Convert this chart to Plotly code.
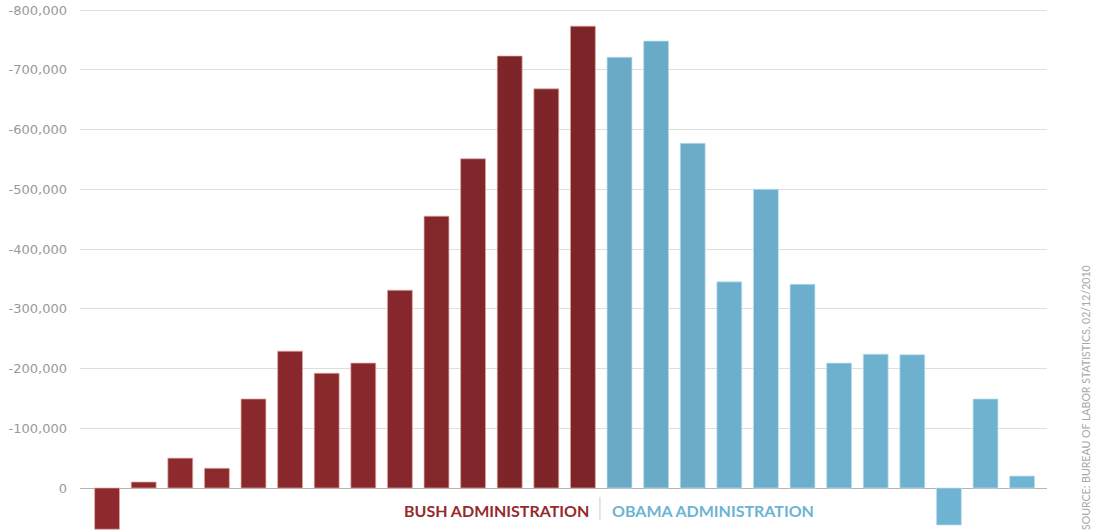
import plotly.graph_objects as go

# Monthly change in jobs (negative = jobs lost)
bush_values = [69000, -10000, -50000, -33000, -149000, -229000, -192000,
               -209000, -331000, -455000, -551000, -723000, -668000, -773000]
obama_values = [-721000, -748000, -577000, -345000, -500000, -341000,
                -209000, -224000, -223000, 62000, -149000, -20000]

tick_vals = [0, -100000, -200000, -300000, -400000, -500000, -600000, -700000, -800000]
tick_text = ["0", "-100,000", "-200,000", "-300,000", "-400,000",
             "-500,000", "-600,000", "-700,000", "-800,000"]

bush_label = "BUSH ADMINISTRATION"
obama_label = "OBAMA ADMINISTRATION"
source_text = "SOURCE: BUREAU OF LABOR STATISTICS, 02/12/2010"

RED_BOTTOM = (142, 42, 46)
RED_TOP = (104, 30, 33)
BLUE_BOTTOM = (111, 180, 210)
BLUE_TOP = (99, 158, 184)


def shade(v, bottom, top):
    # vertical gradient: colour at the bar's mid-height
    f = max(0.0, -v / 2) / 800000
    c = [round(b + (t - b) * f) for b, t in zip(bottom, top)]
    return "rgb({},{},{})".format(*c)


n_b = len(bush_values)
bush_x = list(range(n_b))
obama_x = list(range(n_b, n_b + len(obama_values)))

fig = go.Figure()
fig.add_trace(go.Bar(
    x=bush_x, y=bush_values, name=bush_label,
    marker=dict(color=[shade(v, RED_BOTTOM, RED_TOP) for v in bush_values],
                line=dict(color="rgba(225,170,160,0.9)", width=0.8)),
    hoverinfo="y",
))
fig.add_trace(go.Bar(
    x=obama_x, y=obama_values, name=obama_label,
    marker=dict(color=[shade(v, BLUE_BOTTOM, BLUE_TOP) for v in obama_values],
                line=dict(color="rgba(190,225,240,0.9)", width=0.8)),
    hoverinfo="y",
))

fig.update_layout(
    width=1102, height=532,
    margin=dict(l=80, r=55, t=5, b=0),
    paper_bgcolor="white", plot_bgcolor="white",
    showlegend=False,
    bargap=0.32,
    barmode="overlay",
    font=dict(family="Lato, sans-serif"),
    xaxis=dict(range=[-0.74, 25.68], showticklabels=False, showgrid=False,
               zeroline=False, showline=False, ticks=""),
    yaxis=dict(range=[73640, -808368], tickvals=tick_vals, ticktext=tick_text,
               showgrid=True, gridcolor="#dedede", gridwidth=1,
               zeroline=True, zerolinecolor="#b5b5b5", zerolinewidth=1,
               tickfont=dict(color="#9a9a9a", size=13, family="DejaVu Sans, sans-serif"),
               ticks="", ticklabelstandoff=12, showline=False),
    annotations=[
        dict(text="<b>" + bush_label + "</b>", xref="paper", yref="paper",
             x=0.5284, y=0.0417, xanchor="right", yanchor="middle", showarrow=False,
             font=dict(color="#952A2D", size=16, family="Lato, sans-serif")),
        dict(text="<b>" + obama_label + "</b>", xref="paper", yref="paper",
             x=0.5481, y=0.0417, xanchor="left", yanchor="middle", showarrow=False,
             font=dict(color="#6DB3D3", size=16, family="Lato, sans-serif")),
        dict(text=source_text, xref="paper", yref="paper",
             x=1.0403, y=0.256, xanchor="center", yanchor="middle", showarrow=False,
             textangle=-90,
             font=dict(color="#a8a8a8", size=10.6, family="Lato, sans-serif")),
    ],
    shapes=[
        dict(type="line", xref="paper", yref="paper",
             x0=0.5377, x1=0.5377, y0=0.0228, y1=0.0664,
             line=dict(color="#cccccc", width=1)),
    ],
)

fig.write_html("out.html", config={"displayModeBar": False},
               post_script="document.body.style.margin='0';")
